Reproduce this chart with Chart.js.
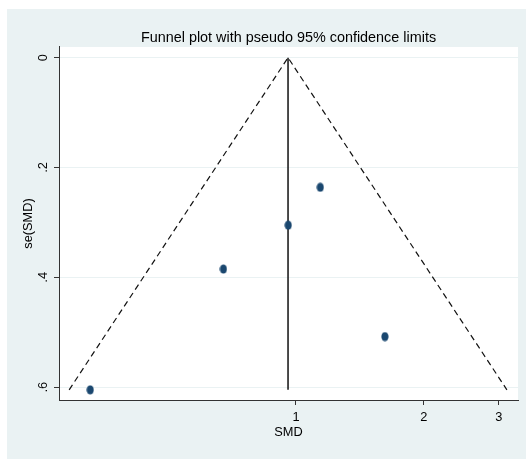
<!DOCTYPE html>
<html>
<head>
<meta charset="utf-8">
<script src="https://cdn.jsdelivr.net/npm/chart.js@4"></script>
<style>
html,body{margin:0;padding:0;background:#ffffff;}
#wrap{width:526px;height:459px;}
</style>
</head>
<body>
<div id="wrap"><canvas id="c" width="526" height="459"></canvas></div>
<script>
// ---- data ----
const studySMD = [0.328, 0.675, 0.959, 1.141, 1.619];
const studySE  = [0.605, 0.385, 0.305, 0.236, 0.508];
const pooledSMD = 0.958;
const xTickValues = [1, 2, 3];
const xTickLabels = ['1', '2', '3'];
const yTickValues = [0, 0.2, 0.4, 0.6];
const yTickLabels = ['0', '.2', '.4', '.6'];
const titleText = 'Funnel plot with pseudo 95% confidence limits';
const xTitle = 'SMD';
const yTitle = 'se(SMD)';

const seMax = Math.max(...studySE);
const z = 1.96;
const lowerAt = s => pooledSMD * Math.exp(-z * s);
const upperAt = s => pooledSMD * Math.exp(z * s);

const FONT = "'Liberation Sans', Arial, sans-serif";
const navy = '#1a476f';

// ellipse marker
const marker = document.createElement('canvas');
marker.width = 8; marker.height = 10;
(function(){
  const g = marker.getContext('2d');
  g.fillStyle = navy;
  g.beginPath();
  g.ellipse(4, 5, 3.6, 4.6, 0, 0, Math.PI * 2);
  g.fill();
})();

const bgPlugin = {
  id: 'bg',
  beforeDraw(chart) {
    const ctx = chart.ctx, a = chart.chartArea;
    ctx.save();
    ctx.fillStyle = '#ffffff';
    ctx.fillRect(0, 0, chart.width, chart.height);
    ctx.fillStyle = '#eaf2f3';
    ctx.fillRect(7, 9, chart.width - 7, chart.height - 9);
    ctx.fillStyle = '#ffffff';
    ctx.fillRect(a.left, a.top, a.right - a.left, a.bottom - a.top);
    ctx.restore();
  }
};

new Chart(document.getElementById('c'), {
  type: 'scatter',
  data: {
    datasets: [
      {
        label: 'studies',
        data: studySMD.map((v, i) => ({x: v, y: studySE[i]})),
        pointStyle: marker,
        pointRadius: 4,
        order: 0
      },
      {
        label: 'limits',
        data: [{x: lowerAt(seMax), y: seMax}, {x: pooledSMD, y: 0}, {x: upperAt(seMax), y: seMax}],
        showLine: true,
        borderColor: '#111111',
        borderWidth: 1.2,
        borderDash: [6, 4],
        pointRadius: 0,
        order: 2
      },
      {
        label: 'pooled',
        data: [{x: pooledSMD, y: 0}, {x: pooledSMD, y: seMax}],
        showLine: true,
        borderColor: '#111111',
        borderWidth: 1.5,
        pointRadius: 0,
        order: 1
      }
    ]
  },
  options: {
    responsive: false,
    animation: false,
    devicePixelRatio: 1,
    layout: {padding: {left: 0, right: 8, top: 0, bottom: 0}},
    plugins: {
      legend: {display: false},
      tooltip: {enabled: false},
      title: {
        display: true,
        text: titleText,
        fullSize: false,
        color: '#000000',
        font: {family: FONT, size: 14.4, weight: 'normal', lineHeight: 1.2},
        padding: {top: 29.4, bottom: 0.3}
      }
    },
    scales: {
      x: {
        type: 'logarithmic',
        min: 0.277,
        max: 3.33,
        afterBuildTicks: s => { s.ticks = xTickValues.map(v => ({value: v})); },
        afterFit: s => { s.height = 59; },
        ticks: {
          color: '#000000',
          font: {family: FONT, size: 12.8},
          padding: 5,
          maxRotation: 0,
          minRotation: 0,
          autoSkip: false,
          callback: (v) => xTickLabels[xTickValues.indexOf(v)]
        },
        grid: {drawOnChartArea: false, drawTicks: true, tickLength: 5, tickColor: '#333333', tickWidth: 1},
        border: {display: true, color: '#333333', width: 1},
        title: {
          display: true, text: xTitle, color: '#000000',
          font: {family: FONT, size: 12.8, lineHeight: 1.2},
          padding: {top: 0, bottom: 18.5}
        }
      },
      y: {
        reverse: true,
        min: -0.0195,
        max: 0.6235,
        afterBuildTicks: s => { s.ticks = yTickValues.map(v => ({value: v})); },
        afterFit: s => { s.width = 59; },
        ticks: {
          color: '#000000',
          font: {family: FONT, size: 12.8},
          padding: 5,
          minRotation: 90,
          maxRotation: 90,
          crossAlign: 'center',
          autoSkip: false,
          callback: (v) => yTickLabels[yTickValues.indexOf(v)]
        },
        grid: {color: '#eaf2f3', lineWidth: 1, drawTicks: true, tickLength: 5, tickColor: '#333333', tickWidth: 1},
        border: {display: true, color: '#333333', width: 1},
        title: {
          display: true, text: yTitle, color: '#000000',
          font: {family: FONT, size: 12.8, lineHeight: 1.2},
          padding: {top: 20.5, bottom: 0}
        }
      }
    }
  },
  plugins: [bgPlugin]
});
</script>
</body>
</html>
